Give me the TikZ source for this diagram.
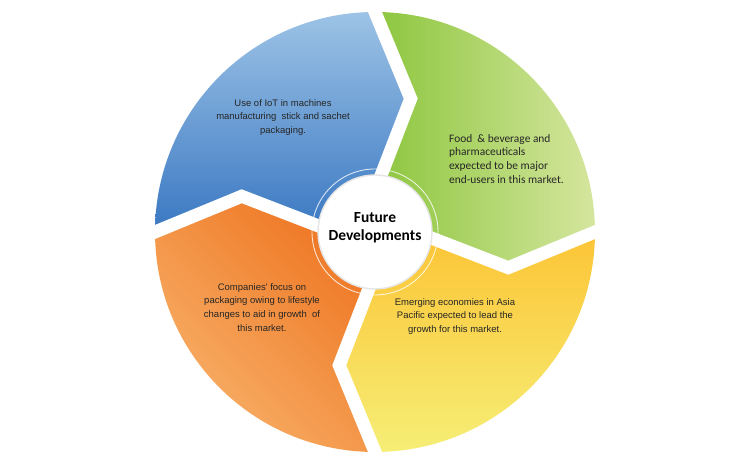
\documentclass[tikz,border=0pt]{standalone}
\usepackage{fontspec}
\newfontfamily\arialfont{Liberation Sans}
\newfontfamily\califont{Carlito}
\usepackage{tikz}
\usetikzlibrary{calc}
\definecolor{blueT}{HTML}{9DC3E6}
\definecolor{blueB}{HTML}{3A78C2}
\definecolor{greenL}{HTML}{8CC63E}
\definecolor{greenR}{HTML}{D5E69E}
\definecolor{yellowT}{HTML}{FCC435}
\definecolor{yellowB}{HTML}{F6EE76}
\definecolor{orangeD}{HTML}{EE7522}
\definecolor{orangeL}{HTML}{F8B26A}
\begin{document}
\begin{tikzpicture}[
    seam/.style={white, line width=7.4pt, line join=miter},
    lbl/.style={font=\arialfont\fontsize{5.4}{7.9}\selectfont, align=center, text=black!85},
    lblc/.style={font=\califont\fontsize{6.5}{7.9}\selectfont, align=left, text=black!85}
  ]
            \useasboundingbox (0,0) rectangle (15,9.28);
            \coordinate (O) at (7.5,4.64);
            \coordinate (A1) at ($(O)+(86:1)$);
            \coordinate (A2) at ($(O)+(75:2.76)$);
            \coordinate (A3) at ($(O)+(90:4.4)$);
            \coordinate (B1) at ($(O)+(-4:1)$);
            \coordinate (B2) at ($(O)+(-15:2.76)$);
            \coordinate (B3) at ($(O)+(0:4.4)$);
            \coordinate (C1) at ($(O)+(-94:1)$);
            \coordinate (C2) at ($(O)+(-105:2.76)$);
            \coordinate (C3) at ($(O)+(-90:4.4)$);
            \coordinate (D1) at ($(O)+(176:1)$);
            \coordinate (D2) at ($(O)+(165:2.76)$);
            \coordinate (D3) at ($(O)+(180:4.4)$);
            \shade[left color=greenL, right color=greenR]
              (A1) -- (A2) -- (A3) arc[start angle=90, end angle=0, radius=4.4] -- (B2) -- (B1) -- cycle;
            \shade[top color=yellowT, bottom color=yellowB]
              (B1) -- (B2) -- (B3) arc[start angle=0, end angle=-90, radius=4.4] -- (C2) -- (C1) -- cycle;
            \shade[top color=orangeD, bottom color=orangeL, shading angle=-45]
              (C1) -- (C2) -- (C3) arc[start angle=-90, end angle=-180, radius=4.4] -- (D2) -- (D1) -- cycle;
            \shade[top color=blueT, bottom color=blueB]
              (D1) -- (D2) -- (D3) arc[start angle=180, end angle=90, radius=4.4] -- (A2) -- (A1) -- cycle;
            \draw[seam] (A1) -- (A2) -- ($(A2)!1.2!(A3)$);
            \draw[seam] (B1) -- (B2) -- ($(B2)!1.2!(B3)$);
            \draw[seam] (C1) -- (C2) -- ($(C2)!1.2!(C3)$);
            \draw[seam] (D1) -- (D2) -- ($(D2)!1.2!(D3)$);
            \draw[white, line width=0.5pt, opacity=0.8] (O) circle (1.26);
            \node[circle, fill=white, draw=black!10, line width=0.8pt, minimum size=2.28cm, inner sep=0pt] (core) at (O) {};
            \node[font=\califont\bfseries\fontsize{8.8}{10.4}\selectfont, align=center] (title) at ($(O)+(0,0.08)$) {Future\\Developments};
            \node[lbl] (iot) at (5.66,6.93) {Use of IoT in machines\\manufacturing\ \ stick and sachet\\packaging.};
            \node[lblc, anchor=west] (food) at (8.86,6.10) {Food \ \& beverage and\\pharmaceuticals\\expected to be major\\end-users in this market.};
            \node[lbl] (asia) at (9.1,2.95) {Emerging economies in Asia\\Pacific expected to lead the\\growth for this market.};
            \node[lbl] (firms) at (5.24,3.13) {Companies' focus on\\packaging owing to lifestyle\\changes to aid in growth\ \ of\\this market.};
        \end{tikzpicture}
\end{document}
